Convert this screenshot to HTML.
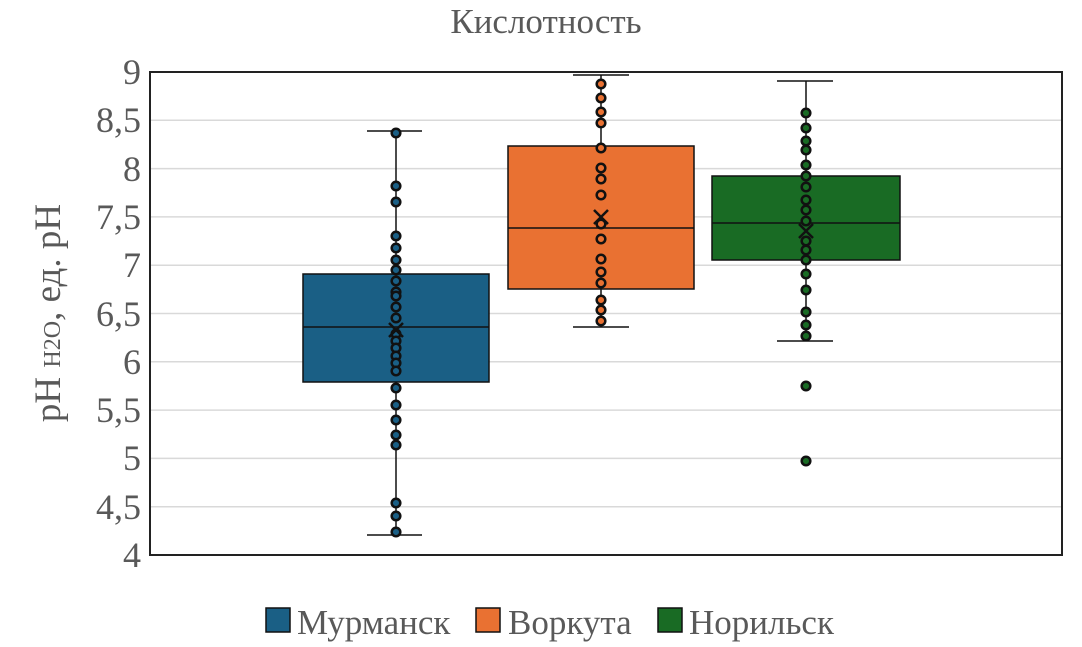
<!DOCTYPE html><html><head><meta charset="utf-8"><style>body{margin:0;background:#fff}svg{display:block}</style></head><body>
<svg width="1082" height="647" xmlns="http://www.w3.org/2000/svg" font-family="Liberation Serif, serif" fill="#595959">
<text x="546" y="33" font-size="35" text-anchor="middle">Кислотность</text>
<g stroke="#d9d9d9" stroke-width="1.5">
<line x1="150" x2="1062" y1="120.3" y2="120.3"/><line x1="150" x2="1062" y1="168.6" y2="168.6"/><line x1="150" x2="1062" y1="216.9" y2="216.9"/><line x1="150" x2="1062" y1="265.2" y2="265.2"/><line x1="150" x2="1062" y1="313.5" y2="313.5"/><line x1="150" x2="1062" y1="361.8" y2="361.8"/><line x1="150" x2="1062" y1="410.1" y2="410.1"/><line x1="150" x2="1062" y1="458.4" y2="458.4"/><line x1="150" x2="1062" y1="506.7" y2="506.7"/>
</g>
<rect x="150" y="72" width="912" height="483" fill="none" stroke="#222" stroke-width="2"/>
<g font-size="36" text-anchor="end">
<text x="141" y="84">9</text><text x="141" y="132">8,5</text><text x="141" y="181">8</text><text x="141" y="229">7,5</text><text x="141" y="277">7</text><text x="141" y="326">6,5</text><text x="141" y="374">6</text><text x="141" y="422">5,5</text><text x="141" y="470">5</text><text x="141" y="519">4,5</text><text x="141" y="567">4</text>
</g>
<text transform="translate(60,313) rotate(-90)" font-size="37" text-anchor="middle">pH <tspan font-size="24">H2O</tspan>, ед. pH</text>
<g stroke="#111" stroke-width="1.5">
<line x1="396" x2="396" y1="131" y2="535"/><line x1="367" x2="422" y1="131" y2="131"/><line x1="367" x2="422" y1="535" y2="535"/>
<rect x="303" y="274" width="186" height="108" fill="#1a5f85"/><line x1="303" x2="489" y1="327" y2="327"/>
<line x1="601" x2="601" y1="75" y2="327"/><line x1="573" x2="629" y1="75" y2="75"/><line x1="573" x2="629" y1="327" y2="327"/>
<rect x="508" y="146" width="186" height="143" fill="#e97132"/><line x1="508" x2="694" y1="228" y2="228"/>
<line x1="806" x2="806" y1="81" y2="341"/><line x1="777" x2="833" y1="81" y2="81"/><line x1="777" x2="833" y1="341" y2="341"/>
<rect x="712" y="176" width="188" height="84" fill="#196b24"/><line x1="712" x2="900" y1="223" y2="223"/>
</g>
<g stroke="#111" stroke-width="2.5" fill="#1a5f85">
<circle cx="396" cy="133" r="4.3"/><circle cx="396" cy="186" r="4.3"/><circle cx="396" cy="202" r="4.3"/><circle cx="396" cy="236" r="4.3"/><circle cx="396" cy="248" r="4.3"/><circle cx="396" cy="260" r="4.3"/><circle cx="396" cy="270" r="4.3"/><circle cx="396" cy="281" r="4.3"/><circle cx="396" cy="292" r="4.3"/><circle cx="396" cy="296" r="4.3"/><circle cx="396" cy="307" r="4.3"/><circle cx="396" cy="318" r="4.3"/><circle cx="396" cy="334" r="4.3"/><circle cx="396" cy="341" r="4.3"/><circle cx="396" cy="348" r="4.3"/><circle cx="396" cy="356" r="4.3"/><circle cx="396" cy="363" r="4.3"/><circle cx="396" cy="371" r="4.3"/><circle cx="396" cy="388" r="4.3"/><circle cx="396" cy="405" r="4.3"/><circle cx="396" cy="420" r="4.3"/><circle cx="396" cy="435" r="4.3"/><circle cx="396" cy="445" r="4.3"/><circle cx="396" cy="503" r="4.3"/><circle cx="396" cy="516" r="4.3"/><circle cx="396" cy="532" r="4.3"/>
</g>
<g stroke="#111" stroke-width="2.5" fill="#e97132">
<circle cx="601" cy="84" r="4.3"/><circle cx="601" cy="98" r="4.3"/><circle cx="601" cy="112" r="4.3"/><circle cx="601" cy="123" r="4.3"/><circle cx="601" cy="148" r="4.3"/><circle cx="601" cy="168" r="4.3"/><circle cx="601" cy="179" r="4.3"/><circle cx="601" cy="195" r="4.3"/><circle cx="601" cy="224" r="4.3"/><circle cx="601" cy="239" r="4.3"/><circle cx="601" cy="259" r="4.3"/><circle cx="601" cy="272" r="4.3"/><circle cx="601" cy="283" r="4.3"/><circle cx="601" cy="300" r="4.3"/><circle cx="601" cy="310" r="4.3"/><circle cx="601" cy="321" r="4.3"/>
</g>
<g stroke="#111" stroke-width="2.5" fill="#196b24">
<circle cx="806" cy="113" r="4.3"/><circle cx="806" cy="128" r="4.3"/><circle cx="806" cy="141" r="4.3"/><circle cx="806" cy="150" r="4.3"/><circle cx="806" cy="165" r="4.3"/><circle cx="806" cy="176" r="4.3"/><circle cx="806" cy="187" r="4.3"/><circle cx="806" cy="200" r="4.3"/><circle cx="806" cy="210" r="4.3"/><circle cx="806" cy="221" r="4.3"/><circle cx="806" cy="241" r="4.3"/><circle cx="806" cy="250" r="4.3"/><circle cx="806" cy="260" r="4.3"/><circle cx="806" cy="274" r="4.3"/><circle cx="806" cy="290" r="4.3"/><circle cx="806" cy="312" r="4.3"/><circle cx="806" cy="325" r="4.3"/><circle cx="806" cy="336" r="4.3"/><circle cx="806" cy="386" r="4.3"/><circle cx="806" cy="461" r="4.3"/>
</g>
<g stroke="#111" stroke-width="2.5">
<path d="M389 323 l14 14 M403 323 l-14 14"/><path d="M594 210 l14 14 M608 210 l-14 14"/><path d="M799 224 l14 14 M813 224 l-14 14"/>
</g>
<g font-size="35">
<rect x="266" y="608" width="24" height="24" fill="#1a5f85" stroke="#111" stroke-width="1.5"/><text x="297" y="634">Мурманск</text>
<rect x="476" y="608" width="24" height="24" fill="#e97132" stroke="#111" stroke-width="1.5"/><text x="508" y="634">Воркута</text>
<rect x="658" y="608" width="24" height="24" fill="#196b24" stroke="#111" stroke-width="1.5"/><text x="689" y="634">Норильск</text>
</g>
</svg></body></html>
